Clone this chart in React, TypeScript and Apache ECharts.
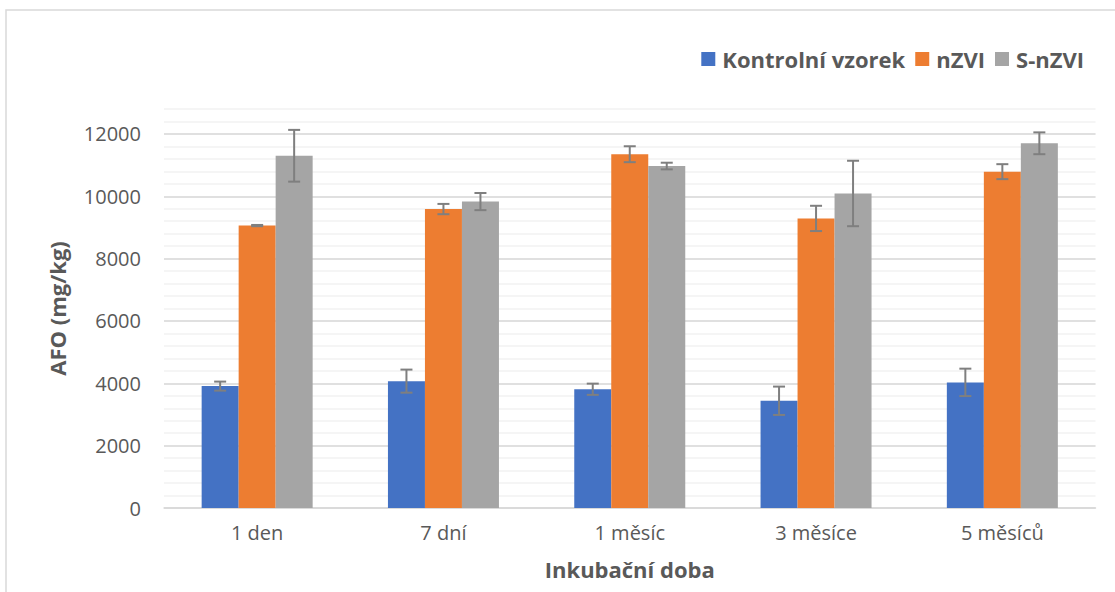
import React, { useEffect, useRef } from "react";
import * as echarts from "echarts";

const categories = ["1 den", "7 dní", "1 měsíc", "3 měsíce", "5 měsíců"];
const seriesNames = ["Kontrolní vzorek", "nZVI", "S-nZVI"];
const colors = ["#4472C4", "#ED7D31", "#A5A5A5"];
const kontrolni = [3910, 4070, 3810, 3440, 4030];
const nzvi = [9060, 9590, 11350, 9290, 10790];
const snzvi = [11300, 9830, 10970, 10090, 11700];
const kontrolniErr = [145, 370, 180, 455, 440];
const nzviErr = [20, 165, 255, 405, 240];
const snzviErr = [830, 275, 107, 1050, 350];

const values = [kontrolni, nzvi, snzvi];
const errors = [kontrolniErr, nzviErr, snzviErr];

const BAR_W = 37;
const FONT = "'Open Sans', sans-serif";

export default function App() {
  const ref = useRef<HTMLDivElement>(null);
  useEffect(() => {
    document.body.style.margin = "0";
    document.body.style.overflow = "hidden";
    const chart = echarts.init(ref.current!, undefined, { renderer: "svg" });

    const barSeries = values.map((vals, i) => ({
      name: seriesNames[i],
      type: "bar",
      data: vals,
      barWidth: BAR_W,
      barGap: "0%",
      itemStyle: { color: colors[i] },
      z: 2,
    }));

    const errSeries = values.map((vals, i) => ({
      name: seriesNames[i] + "_err",
      type: "custom",
      z: 5,
      clip: false,
      silent: true,
      data: vals.map((v, k) => [k, v - errors[i][k], v + errors[i][k]]),
      renderItem: (params: any, api: any) => {
        const idx = api.value(0);
        const lo = api.coord([idx, api.value(1)]);
        const hi = api.coord([idx, api.value(2)]);
        const x = lo[0] + (i - 1) * BAR_W;
        const cap = 6;
        const style = { stroke: "#7F7F7F", lineWidth: 2 };
        return {
          type: "group",
          children: [
            { type: "line", shape: { x1: x, y1: lo[1], x2: x, y2: hi[1] }, style },
            { type: "line", shape: { x1: x - cap, y1: hi[1], x2: x + cap, y2: hi[1] }, style },
            { type: "line", shape: { x1: x - cap, y1: lo[1], x2: x + cap, y2: lo[1] }, style },
          ],
        };
      },
    }));

    chart.setOption({
      animation: false,
      textStyle: { fontFamily: FONT },
      legend: {
        data: seriesNames.map((n, i) => ({ name: n, itemStyle: { color: colors[i] } })),
        right: 26,
        top: 43,
        icon: "rect",
        itemWidth: 14,
        itemHeight: 14,
        itemGap: 10,
        textStyle: { fontFamily: FONT, fontSize: 22, fontWeight: "bold", color: "#595959", padding: [0, 0, 0, 2] },
      },
      graphic: [
        {
          type: "rect",
          shape: { x: 6, y: 10, width: 1300, height: 900 },
          style: { fill: "none", stroke: "#D9D9D9", lineWidth: 1.5 },
          silent: true,
          z: -1,
        },
      ],
      grid: { left: 164, right: 19.5, top: 109, bottom: 84, containLabel: false },
      xAxis: {
        type: "category",
        data: categories,
        axisTick: { show: false },
        axisLine: { lineStyle: { color: "#D9D9D9", width: 1.5 } },
        axisLabel: { fontFamily: FONT, fontSize: 20, color: "#595959", margin: 14 },
        name: "Inkubační doba",
        nameLocation: "middle",
        nameGap: 50,
        nameTextStyle: { fontFamily: FONT, fontSize: 22, fontWeight: "bold", color: "#595959" },
      },
      yAxis: [
        {
          type: "value",
          min: 0,
          max: 12800,
          interval: 2000,
          z: 1,
          axisLine: { show: false },
          axisTick: { show: false },
          axisLabel: {
            fontFamily: FONT,
            fontSize: 20,
            color: "#595959",
            margin: 23,
            showMaxLabel: false,
            formatter: (v: number) => String(v),
          },
          splitLine: { show: true, showMaxLine: false, lineStyle: { color: "#D9D9D9", width: 1.5 } },
          name: "AFO (mg/kg)",
          nameLocation: "middle",
          nameRotate: 90,
          nameGap: 96,
          nameTextStyle: { fontFamily: FONT, fontSize: 22, fontWeight: "bold", color: "#595959" },
        },
        {
          type: "value",
          min: 0,
          max: 12800,
          interval: 400,
          z: 0,
          position: "left",
          axisLine: { show: false },
          axisTick: { show: false },
          axisLabel: { show: false },
          splitLine: { show: true, lineStyle: { color: "#F2F2F2", width: 1.5 } },
        },
      ],
      series: [...barSeries, ...errSeries],
    });
    return () => chart.dispose();
  }, []);
  return <div ref={ref} style={{ width: 1115, height: 592 }} />;
}
